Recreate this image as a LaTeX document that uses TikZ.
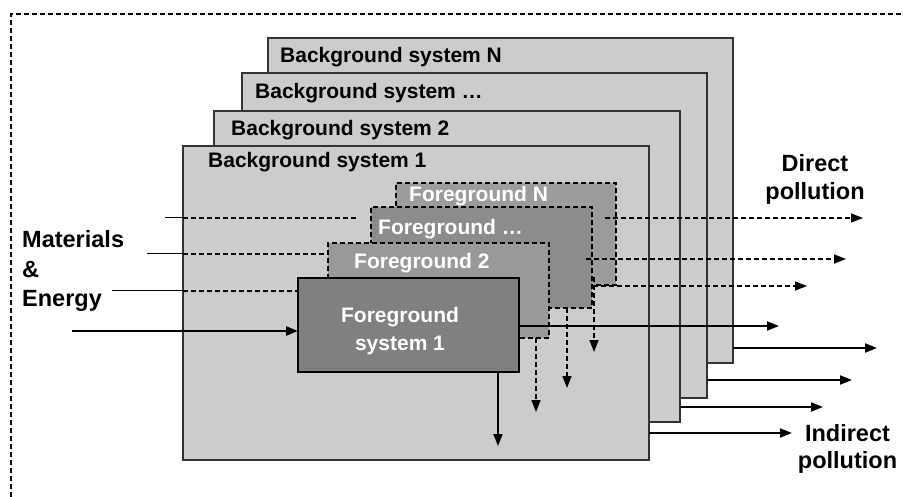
\documentclass[tikz,border=0pt]{standalone}
\usepackage{fontspec}
\setmainfont{Liberation Sans}
\usetikzlibrary{arrows.meta}

\definecolor{bgfill}{HTML}{CCCCCC}
\definecolor{fgone}{HTML}{808080}
\definecolor{fgtwo}{HTML}{999999}
\definecolor{fgdots}{HTML}{8C8C8C}
\definecolor{fgn}{HTML}{9C9C9C}
\definecolor{edge}{HTML}{333333}

\begin{document}
\begin{tikzpicture}[x=1pt,y=-1pt,
  bgbox/.style={draw=edge, line width=1.2pt, fill=bgfill, anchor=north west,
    inner sep=0pt, outer sep=0pt},
  fgbox/.style={draw=black, line width=1.4pt, dash pattern=on 5pt off 3pt,
    anchor=north west, inner sep=0pt, outer sep=0pt},
  fgsolid/.style={draw=black, line width=1.2pt, anchor=north west,
    inner sep=0pt, outer sep=0pt},
  boxtext/.style={font=\fontsize{21}{25}\selectfont\bfseries, inner sep=0pt},
  sidetext/.style={font=\fontsize{23.5}{28}\selectfont\bfseries, inner sep=0pt},
  dline/.style={line width=1.5pt, dash pattern=on 5pt off 3pt},
  tip/.style={-{Triangle[length=12pt,width=9pt]}},
  feed/.style={line width=1pt},
  flow/.style={line width=1.8pt}
]
\useasboundingbox (0,0) rectangle (903,497);

% outer system boundary
\draw[line width=2pt, dash pattern=on 5pt off 3pt] (11,497) -- (11,14) -- (903,14);

% background systems, back to front
\node[bgbox, minimum width=465pt, minimum height=325pt] (bgN) at (268,38) {};
\node[boxtext, anchor=base west] (lbgN) at (280,63) {Background system N};
\node[bgbox, minimum width=465pt, minimum height=325pt] (bgD) at (242,73) {};
\node[boxtext, anchor=base west] (lbgD) at (255,99) {Background system …};
\node[bgbox, minimum width=466pt, minimum height=311pt] (bgB) at (214,111) {};
\node[boxtext, anchor=base west] (lbgB) at (231,136) {Background system 2};
\node[bgbox, minimum width=466pt, minimum height=314pt] (bgA) at (183,146) {};
\node[boxtext, anchor=base west] (lbgA) at (208,168) {Background system 1};

% foreground systems, back to front
\node[fgbox, fill=fgn, minimum width=220pt, minimum height=102pt] (fgN) at (396,183) {};
\node[boxtext, text=white, anchor=base west] (lfgN) at (409,202) {Foreground N};
\node[fgbox, fill=fgdots, minimum width=221pt, minimum height=101pt] (fgD) at (371,207) {};
\node[boxtext, text=white, anchor=base west] (lfgD) at (378,235) {Foreground …};
\node[fgbox, fill=fgtwo, minimum width=221pt, minimum height=95pt] (fgB) at (328,243) {};
\node[boxtext, text=white, anchor=base west] (lfgB) at (354,269) {Foreground 2};
\node[fgsolid, fill=fgone, minimum width=221pt, minimum height=94pt] (fgA) at (298,278) {};
\node[boxtext, text=white, anchor=base] (lfgA1) at (400,323) {Foreground};
\node[boxtext, text=white, anchor=base] (lfgA2) at (400,350) {system 1};

% inputs: materials and energy
\coordinate (inN) at (165,218);
\coordinate (inNend) at (358,218);
\coordinate (inB) at (147,254);
\coordinate (inC) at (112,291);
\coordinate (inA) at (72,331);
\draw[feed] (inN) -- (inN -| bgA.west);
\draw[dline] (inN -| bgA.west) -- (inNend);
\draw[feed] (inB) -- (inB -| bgA.west);
\draw[dline] (inB -| bgA.west) -- (inB -| fgB.west);
\draw[feed] (inC) -- (inC -| bgA.west);
\draw[dline] (inC -| bgA.west) -- (inC -| fgA.west);
\draw[line width=2.6pt, tip] (inA) -- (inA -| fgA.west);

% direct pollution from the foreground systems
\coordinate (dN) at (605,218);
\coordinate (dNend) at (863,218);
\coordinate (dD) at (586,259);
\coordinate (dDend) at (846,259);
\coordinate (dB) at (593,286);
\coordinate (dBend) at (807,286);
\draw[dline, tip] (dN) -- (dNend);
\draw[dline, tip] (dD) -- (dDend);
\draw[dline, tip] (dB) -- (dBend);
\coordinate (dA) at (fgA.east |- 0,326);
\coordinate (dAend) at (779,326);
\draw[flow, tip] (dA) -- (dAend);

% waste flows leaving each foreground system downwards
\coordinate (vN) at (594,277);
\coordinate (vNend) at (594,352);
\draw[dline, tip] (vN) -- (vNend);
\coordinate (vD) at (567,0);
\draw[dline, tip] (vD |- fgD.south) -- (567,388);
\coordinate (vB) at (536,0);
\draw[dline, tip] (vB |- fgB.south) -- (536,412);
\coordinate (vA) at (498,0);
\draw[flow, tip] (vA |- fgA.south) -- (498,446);

% indirect pollution from the background systems
\coordinate (oN) at (877,348);
\coordinate (oD) at (852,380);
\coordinate (oB) at (823,407);
\coordinate (oA) at (792,433);
\draw[flow, tip] (oN -| bgN.east) -- (oN);
\draw[flow, tip] (oD -| bgD.east) -- (oD);
\draw[flow, tip] (oB -| bgB.east) -- (oB);
\draw[flow, tip] (oA -| bgA.east) -- (oA);

% side labels
\node[sidetext, anchor=base west] (mat1) at (22,248) {Materials};
\node[sidetext, anchor=base west] (mat2) at (22,278) {\&};
\node[sidetext, anchor=base west] (mat3) at (22,307) {Energy};
\node[sidetext, anchor=base] (dir1) at (815,172) {Direct};
\node[sidetext, anchor=base] (dir2) at (815,200) {pollution};
\node[sidetext, anchor=base] (ind1) at (847.5,441) {Indirect};
\node[sidetext, anchor=base] (ind2) at (847.5,468) {pollution};
\end{tikzpicture}
\end{document}
